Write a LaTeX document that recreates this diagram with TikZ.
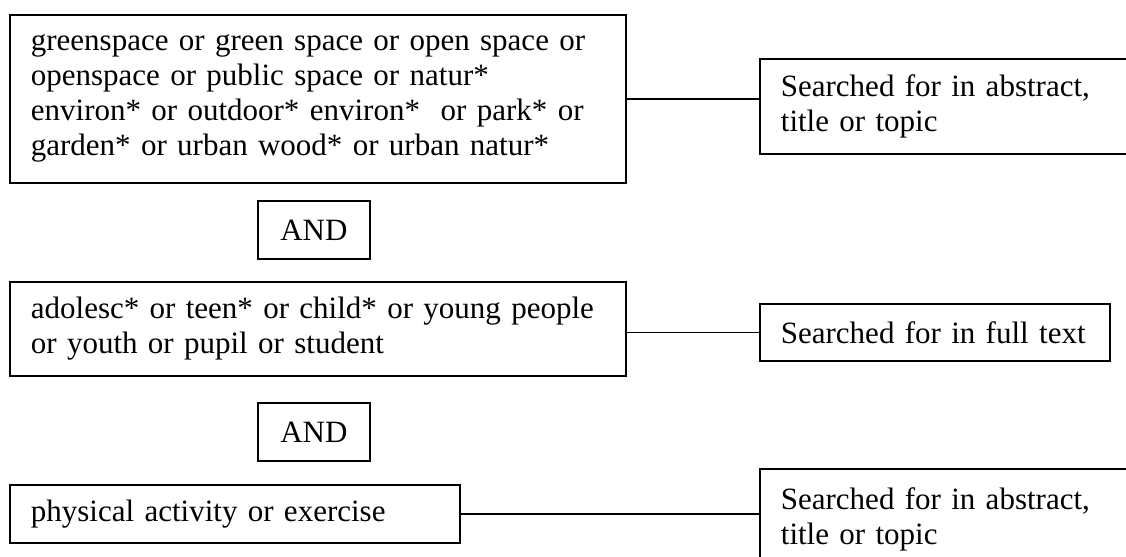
\documentclass[tikz,border=0pt]{standalone}
\usepackage{fontspec}
\setmainfont{Liberation Serif}
\begin{document}
\begin{tikzpicture}[x=0.4pt,y=-0.4pt]
   \tikzstyle{every node}=[font=\fontsize{12.4}{14}\selectfont]
   \tikzstyle{termbox}=[draw,line width=0.7pt,anchor=north west,align=left,inner xsep=8.4pt,inner ysep=0pt]
   \tikzstyle{andbox}=[draw,line width=0.7pt,anchor=north west,minimum width=44.8pt,minimum height=23.2pt]
   \clip (0,0) rectangle (1126,556) ;

   \node (green) [termbox,text width=229.6pt,minimum height=67.2pt] at (9,14) {greenspace or green space or open space or\\ openspace or public space or natur*\\ environ* or outdoor* environ*\ \ or park* or\\ garden* or urban wood* or urban natur*} ;
   \node (wherea) [termbox,text width=135.6pt,minimum height=38pt] at (759,58) {Searched for in abstract,\\ title or topic} ;
   \node (anda) [andbox] at (257,200) {AND} ;

   \node (young) [termbox,text width=229.6pt,minimum height=37.6pt] at (9,281) {adolesc* or teen* or child* or young people\\ or youth or pupil or student} ;
   \node (whereb) [termbox,text width=123.2pt,minimum height=22.8pt] at (759,303) {Searched for in full text} ;
   \node (andb) [andbox] at (257,402) {AND} ;

   \node (active) [termbox,text width=163.2pt,minimum height=23.2pt] at (9,484) {physical activity or exercise} ;
   \node (wherec) [termbox,text width=135.6pt,minimum height=40pt] at (759,468) {Searched for in abstract,\\ title or topic} ;

   \draw [line width=0.5pt] (green.east) -- (green.east -| wherea.west) ;
   \draw [line width=0.5pt] (whereb.west -| young.east) -- (whereb.west) ;
   \draw [line width=0.5pt] (active.east) -- (active.east -| wherec.west) ;

\end{tikzpicture}
\end{document}
